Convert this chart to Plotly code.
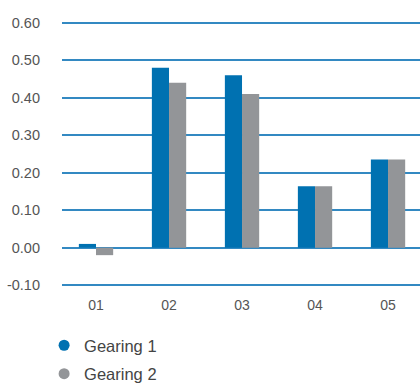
import plotly.graph_objects as go

categories = ["01", "02", "03", "04", "05"]
gearing1 = [0.01, 0.48, 0.46, 0.164, 0.235]
gearing2 = [-0.02, 0.44, 0.41, 0.164, 0.235]
tick_vals = [-0.10, 0.00, 0.10, 0.20, 0.30, 0.40, 0.50, 0.60]
tick_text = ["-0.10", "0.00", "0.10", "0.20", "0.30", "0.40", "0.50", "0.60"]
series_names = ["Gearing 1", "Gearing 2"]

BLUE = "#0071b1"
GRAY = "#939598"
TEXT = "#555555"

fig = go.Figure()
fig.add_trace(go.Bar(x=categories, y=gearing1, marker=dict(color=BLUE, line=dict(width=0)),
                     showlegend=False, name=series_names[0]))
fig.add_trace(go.Bar(x=categories, y=gearing2, marker=dict(color=GRAY, line=dict(width=0)),
                     showlegend=False, name=series_names[1]))
for i, (nm, col) in enumerate(zip(series_names, [BLUE, GRAY])):
    fig.add_trace(go.Scatter(x=[None], y=[None], mode="markers", name=nm,
                             legendgroup="g%d" % i,
                             marker=dict(color=col, size=11, symbol="circle")))

fig.update_layout(
    width=420, height=385,
    margin=dict(l=62, r=0, t=21, b=98, autoexpand=False),
    paper_bgcolor="white", plot_bgcolor="white",
    barmode="group", bargap=0.53, bargroupgap=0,
    font=dict(family="Liberation Sans, Arial, sans-serif", color=TEXT, size=14),
    xaxis=dict(range=[-0.466, 4.438], showgrid=False, zeroline=False, showline=False,
               ticks="", ticklabelstandoff=8, tickfont=dict(size=14, color=TEXT)),
    yaxis=dict(range=[-0.105, 0.605], tickvals=tick_vals, ticktext=tick_text,
               showgrid=True, gridcolor="#3389c2", gridwidth=1.5,
               zeroline=False, showline=False, ticks="",
               ticklabelstandoff=21, tickfont=dict(size=14.5, color=TEXT)),
    legend=dict(orientation="v", xref="container", yref="container",
                x=0.105, y=0.148, xanchor="left", yanchor="top",
                font=dict(size=16.5, color="#444444"), itemwidth=30,
                tracegroupgap=4, bgcolor="rgba(0,0,0,0)"),
)

fig.write_html("out.html")
